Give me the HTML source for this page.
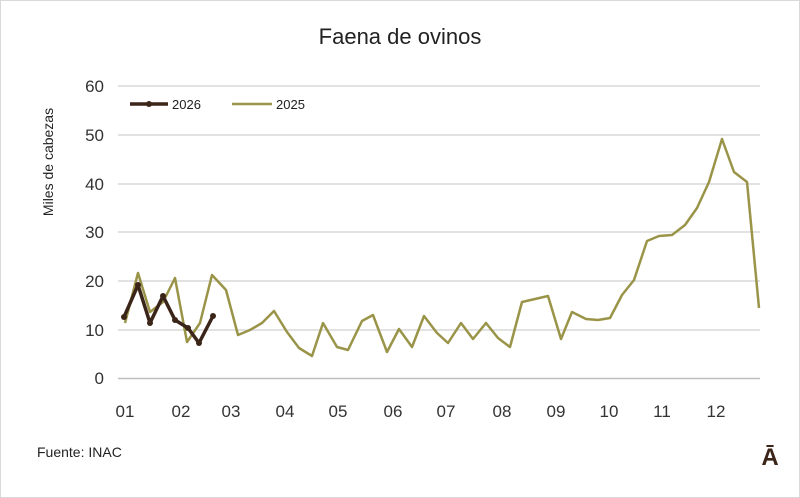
<!DOCTYPE html>
<html><head><meta charset="utf-8"><style>
html,body{margin:0;padding:0;background:#fff}
svg{display:block;font-family:"Liberation Sans",sans-serif}
</style></head><body>
<svg width="800" height="498" viewBox="0 0 800 498">
<rect x="0.5" y="0.5" width="799" height="497" fill="#fff" stroke="#d9d9d9"/>
<text x="400" y="44" font-size="22" text-anchor="middle" fill="#222">Faena de ovinos</text>
<g stroke="#d9d9d9" stroke-width="1.5">
<line x1="118" x2="760" y1="86" y2="86"/><line x1="118" x2="760" y1="135" y2="135"/>
<line x1="118" x2="760" y1="184" y2="184"/><line x1="118" x2="760" y1="232" y2="232"/>
<line x1="118" x2="760" y1="281" y2="281"/><line x1="118" x2="760" y1="330" y2="330"/>
</g>
<line x1="118" x2="760" y1="378.5" y2="378.5" stroke="#bfbfbf" stroke-width="1.5"/>
<g font-size="17" fill="#333" text-anchor="end">
<text x="104" y="92">60</text><text x="104" y="141">50</text><text x="104" y="190">40</text>
<text x="104" y="238">30</text><text x="104" y="287">20</text><text x="104" y="336">10</text>
<text x="104" y="384">0</text></g>
<g font-size="17" fill="#333" text-anchor="middle">
<text x="125" y="417">01</text><text x="181" y="417">02</text><text x="231" y="417">03</text>
<text x="285" y="417">04</text><text x="338" y="417">05</text><text x="393" y="417">06</text>
<text x="446" y="417">07</text><text x="502" y="417">08</text><text x="556" y="417">09</text>
<text x="609" y="417">10</text><text x="662" y="417">11</text><text x="716" y="417">12</text></g>
<text transform="translate(53,162) rotate(-90)" font-size="14" fill="#222" text-anchor="middle">Miles de cabezas</text>
<polyline fill="none" stroke="#9a9449" stroke-width="2.5" stroke-linejoin="round" points="125,323 138,273 150,312 163,302 175,278 187,342 200,323 212,275 226,290 238,335 250,330 262,323 274,311 287,332 299,348 312,356 323,323 337,347 348,350 362,321 373,315 387,352 399,329 412,347 424,316 437,333 448,343 461,323 473,339 486,323 498,338 510,347 522,302 548,296 561,339 572,312 586,319 598,320 610,318 622,295 634,280 647,241 659,236 672,235 685,225 697,208 709,182 722,139 734,172 747,182 759,308"/>
<polyline fill="none" stroke="#3b2418" stroke-width="3.5" stroke-linejoin="round" points="124,317 138,285 150,323 163,296 175,320 188,328 199,343 213,316"/>
<g fill="#3b2418"><circle cx="124" cy="317" r="3"/><circle cx="138" cy="285" r="3"/><circle cx="150" cy="323" r="3"/><circle cx="163" cy="296" r="3"/><circle cx="175" cy="320" r="3"/><circle cx="188" cy="328" r="3"/><circle cx="199" cy="343" r="3"/><circle cx="213" cy="316" r="3"/></g>
<line x1="130" x2="168" y1="104" y2="104" stroke="#3b2418" stroke-width="3.5"/>
<circle cx="149" cy="104" r="3" fill="#3b2418"/>
<text x="172" y="109" font-size="13" fill="#222">2026</text>
<line x1="232" x2="272" y1="104" y2="104" stroke="#9a9449" stroke-width="2.5"/>
<text x="276" y="109" font-size="13" fill="#222">2025</text>
<text x="37" y="457" font-size="14" fill="#222">Fuente: INAC</text>
<text x="770" y="465" font-size="24" font-weight="bold" fill="#3b2418" text-anchor="middle">Ā</text>
</svg>
</body></html>
